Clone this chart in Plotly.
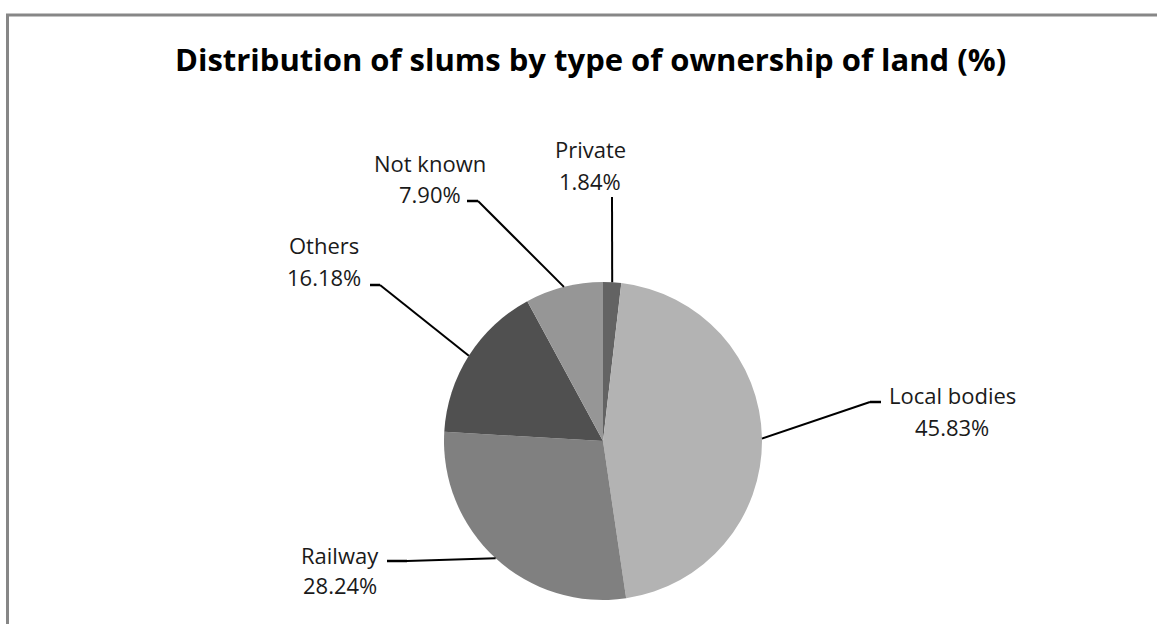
import math
import plotly.graph_objects as go

# ---------------- data ----------------
categories = ["Private", "Local bodies", "Railway", "Others", "Not known"]
shares = [1.84, 45.83, 28.24, 16.18, 7.90]
slice_colors = ["#636363", "#b3b3b3", "#808080", "#505050", "#969696"]
title_text = "Distribution of slums by type of ownership of land (%)"

# ---------------- layout (pixels) ----------------
W, H = 1157, 624
PIE_CX, PIE_CY, PIE_R = 603, 441, 159
label_layout = {
    "Private":      dict(elbow=(612, 197), hook=None, tx=590, b1=157, b2=189),
    "Local bodies": dict(elbow=(870, 402), hook=(881, 402), tx=952, b1=403, b2=435),
    "Railway":      dict(elbow=(407, 561), hook=(387, 561), tx=340, b1=563, b2=593),
    "Others":       dict(elbow=(380, 285), hook=(370, 285), tx=324, b1=253, b2=285),
    "Not known":    dict(elbow=(478, 201), hook=(467, 201), tx=430, b1=171, b2=202),
}
FONT = "Open Sans"
LABEL_SIZE = 22
TITLE_SIZE = 31


def px(x):
    return x / W


def py(y):
    return 1 - y / H


fig = go.Figure()
fig.add_trace(go.Pie(
    labels=categories,
    values=shares,
    sort=False,
    direction="clockwise",
    rotation=0,
    marker=dict(colors=slice_colors, line=dict(width=0)),
    textinfo="none",
    hoverinfo="label+percent",
    showlegend=False,
    domain=dict(x=[px(PIE_CX - PIE_R), px(PIE_CX + PIE_R)],
                y=[py(PIE_CY + PIE_R), py(PIE_CY - PIE_R)]),
))

shapes = []
annotations = []
total = sum(shares)
cum = 0.0
for name, v in zip(categories, shares):
    mid = (cum + v / 2) / total * 2 * math.pi
    cum += v
    sx = PIE_CX + PIE_R * math.sin(mid)
    sy = PIE_CY - PIE_R * math.cos(mid)
    lay = label_layout[name]
    ex, ey = lay["elbow"]
    shapes.append(dict(type="line", xref="paper", yref="paper",
                       x0=px(sx), y0=py(sy), x1=px(ex), y1=py(ey),
                       line=dict(color="black", width=2)))
    if lay["hook"] is not None:
        hx, hy = lay["hook"]
        shapes.append(dict(type="line", xref="paper", yref="paper",
                           x0=px(ex), y0=py(ey), x1=px(hx), y1=py(hy),
                           line=dict(color="black", width=2.5)))
    pct = f"{v:.2f}%"
    for txt, base in ((name, lay["b1"]), (pct, lay["b2"])):
        annotations.append(dict(
            text=txt, xref="paper", yref="paper",
            x=px(lay["tx"]), y=py(base - 0.36 * LABEL_SIZE),
            xanchor="center", yanchor="middle", showarrow=False,
            font=dict(family=FONT, size=LABEL_SIZE, color="#1a1a1a"),
        ))

# title
annotations.append(dict(
    text="<b>" + title_text + "</b>", xref="paper", yref="paper",
    x=px(590), y=py(70 - 0.36 * TITLE_SIZE), xanchor="center", yanchor="middle",
    showarrow=False, font=dict(family=FONT, size=TITLE_SIZE, color="black"),
))

# outer frame
shapes.append(dict(type="rect", xref="paper", yref="paper",
                   x0=px(7.5), y0=py(640), x1=px(1170), y1=py(15),
                   line=dict(color="#878787", width=3), fillcolor="rgba(0,0,0,0)"))

fig.update_layout(
    width=W, height=H, autosize=False,
    margin=dict(l=0, r=0, t=0, b=0),
    paper_bgcolor="white", plot_bgcolor="white",
    shapes=shapes, annotations=annotations,
)

fig.write_html("out.html",
               config={"displayModeBar": False},
               post_script="document.body.style.margin='0';document.body.style.overflow='hidden';")
